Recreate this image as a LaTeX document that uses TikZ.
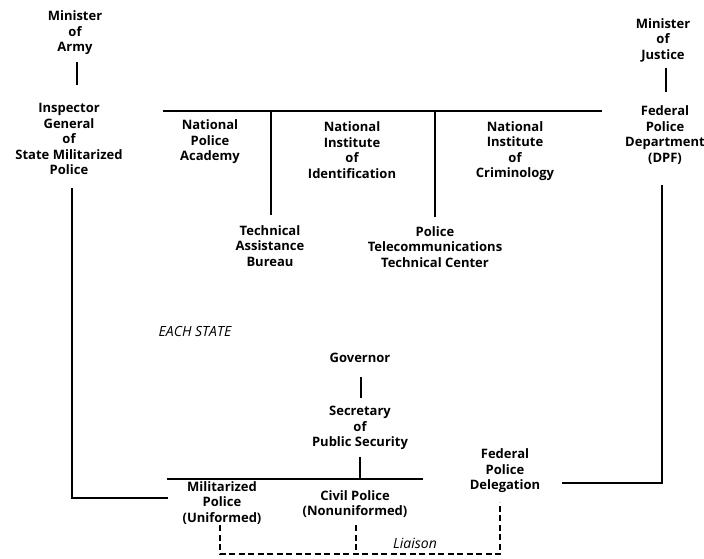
\documentclass[tikz,border=0pt]{standalone}
\usepackage{fontspec}
\setmainfont{Open Sans}
\begin{document}
\begin{tikzpicture}[x=1pt,y=-1pt,
  lbl/.style={font=\bfseries\fontsize{13}{15.5}\selectfont, align=center, inner sep=0pt},
  note/.style={font=\itshape\fontsize{14}{14}\selectfont, inner sep=0pt},
  link/.style={line width=2.6pt},
  liaisonline/.style={line width=1.3pt, dash pattern=on 6pt off 3.5pt}]
\useasboundingbox (0,0) rectangle (704,559);
% nodes
\node[lbl] (moa) at (75,33) {Minister\\of\\Army};
\node[lbl] (ig) at (69,139) {Inspector\\General\\of\\State Militarized\\Police};
\node[lbl] (npa) at (210,142) {National\\Police\\Academy};
\node[lbl] (nii) at (352,150) {National\\Institute\\of\\Identification};
\node[lbl] (nic) at (515,151) {National\\Institute\\of\\Criminology};
\node[lbl] (tab) at (270,246) {Technical\\Assistance\\Bureau};
\node[lbl] (pttc) at (435,247) {Police\\Telecommunications\\Technical Center};
\node[lbl] (moj) at (663,40) {Minister\\of\\Justice};
\node[lbl] (dpf) at (665,135) {Federal\\Police\\Department\\(DPF)};
\node[note] (each) at (195,331) {EACH STATE};
\node[lbl] (gov) at (360,358) {Governor};
\node[lbl] (sps) at (360,428) {Secretary\\of\\Public Security};
\node[lbl] (mp) at (222,503) {Militarized\\Police\\(Uniformed)};
\node[lbl] (cp) at (355,504) {Civil Police\\(Nonuniformed)};
\node[lbl] (fpd) at (505,471) {Federal\\Police\\Delegation};
\node[note] (liaison) at (415,543) {Liaison};
% connector ends
\coordinate (armyT) at (77,62);   \coordinate (armyB) at (77,85);
\coordinate (igT) at (72,188);    \coordinate (igC) at (72,498);  \coordinate (mpL) at (168,498);
\coordinate (tbL) at (163,111);   \coordinate (tbR) at (602,111);
\coordinate (tabJ) at (271,111);  \coordinate (tabE) at (271,215);
\coordinate (ptJ) at (435,111);   \coordinate (ptE) at (435,217);
\coordinate (jusT) at (666,68);   \coordinate (jusB) at (666,92);
\coordinate (dpfB) at (662,185);  \coordinate (dpfC) at (662,483); \coordinate (fpdR) at (562,483);
\coordinate (govT) at (361,377);  \coordinate (govB) at (361,398);
\coordinate (spsT) at (360,457);  \coordinate (spsB) at (360,479);
\coordinate (barL) at (167,479);  \coordinate (barR) at (423,479);
\coordinate (mpD) at (220,525);   \coordinate (mpDB) at (220,554);
\coordinate (cpD) at (356,525);   \coordinate (cpDB) at (356,554);
\coordinate (fpdD) at (500,502);  \coordinate (fpdDB) at (500,554);
% solid connectors
\draw[link] (armyT) -- (armyB);
\draw[link] (igT) -- (igC) -- (mpL);
\draw[link] (tbL) -- (tbR);
\draw[link] (tabJ) -- (tabE);
\draw[link] (ptJ) -- (ptE);
\draw[link] (jusT) -- (jusB);
\draw[link] (dpfB) -- (dpfC) -- (fpdR);
\draw[link] (govT) -- (govB);
\draw[link] (spsT) -- (spsB);
\draw[link] (barL) -- (barR);
% liaison
\draw[liaisonline] (mpD) -- (mpDB) -- (fpdDB) -- (fpdD);
\draw[liaisonline] (cpD) -- (cpDB);
\end{tikzpicture}
\end{document}
